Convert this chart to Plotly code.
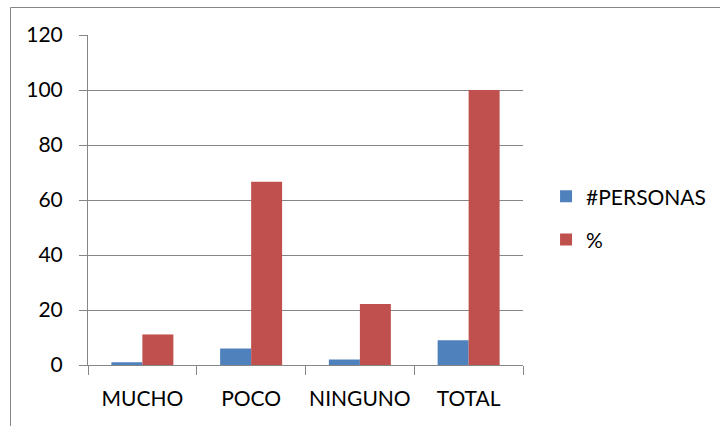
import plotly.graph_objects as go

categories = ["MUCHO", "POCO", "NINGUNO", "TOTAL"]
personas = [1, 6, 2, 9]
porcentaje = [11.11, 66.67, 22.22, 100]
series_names = ["#PERSONAS", "%"]
y_ticks = [0, 20, 40, 60, 80, 100, 120]

FONT = "Lato"
GRID = "#868686"

fig = go.Figure()
fig.add_trace(go.Bar(x=categories, y=personas, name=series_names[0],
                     marker=dict(color="#4F81BD", line=dict(width=0)),
                     legendgroup="a"))
fig.add_trace(go.Bar(x=categories, y=porcentaje, name=series_names[1],
                     marker=dict(color="#C0504D", line=dict(width=0)),
                     legendgroup="b"))

# outer chart frame (runs off the right and bottom edges)
fig.add_shape(type="rect", xref="paper", yref="paper",
              x0=(10.5 - 88) / 435, x1=(730 - 88) / 435,
              y0=-(75 / 330), y1=1 + 27.5 / 330,
              line=dict(color=GRID, width=1), fillcolor="rgba(0,0,0,0)",
              layer="below")

fig.update_layout(
    width=720, height=426,
    margin=dict(l=88, r=197, t=35, b=61, autoexpand=False),
    paper_bgcolor="white", plot_bgcolor="white",
    barmode="group", bargap=0.43, bargroupgap=0,
    font=dict(family=FONT, size=21, color="black"),
    showlegend=True,
    legend=dict(x=1.053, y=0.445, xanchor="left", yanchor="middle",
                traceorder="grouped", tracegroupgap=13,
                font=dict(family=FONT, size=21, color="black"),
                bgcolor="rgba(0,0,0,0)"),
    xaxis=dict(showgrid=False, showline=True, linecolor=GRID, linewidth=1,
               ticks="outside", tickson="boundaries", ticklen=9,
               tickcolor=GRID, tickwidth=1, ticklabelstandoff=15,
               tickangle=0, automargin=False),
    yaxis=dict(range=[0, 120], tickvals=y_ticks, showgrid=True,
               gridcolor=GRID, gridwidth=1, showline=True, linecolor=GRID,
               linewidth=1, ticks="outside", ticklen=8, tickcolor=GRID,
               tickwidth=1, zeroline=False, ticklabelstandoff=12,
               automargin=False),
)

fig.write_html("out.html")
